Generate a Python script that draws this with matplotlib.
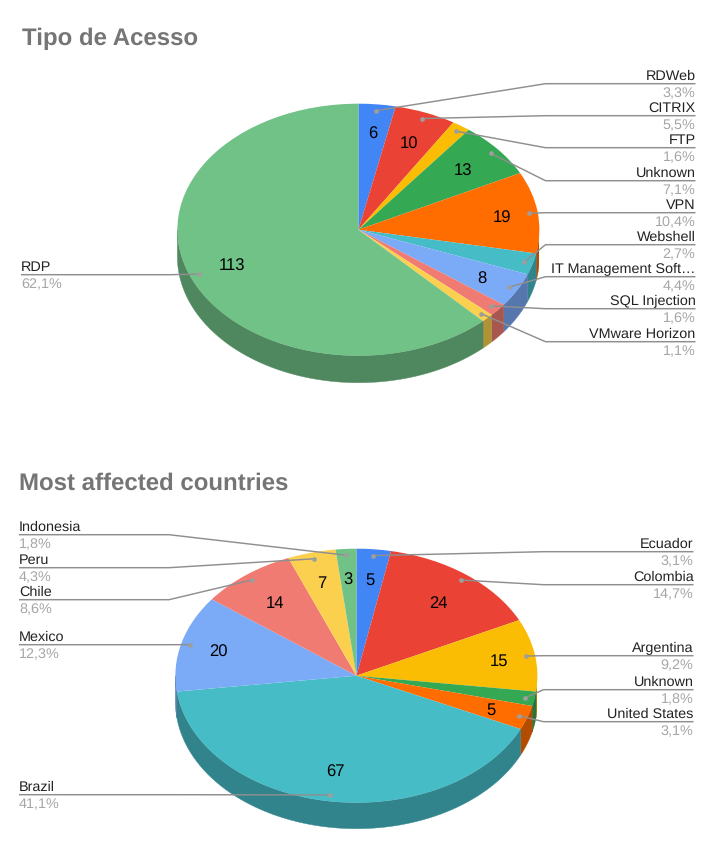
import numpy as np
import matplotlib
matplotlib.use("Agg")
import matplotlib.pyplot as plt
import matplotlib.colors as mc

plt.rcParams['font.family'] = ['Liberation Sans', 'DejaVu Sans']
plt.rcParams['text.hinting'] = 'no_hinting'

W, H = 712, 853
palette = ['#4285F4', '#EA4335', '#FBBC04', '#34A853', '#FF6D01',
           '#46BDC6', '#7BAAF7', '#F07B72', '#FCD04F', '#71C287']

access_names = ['RDWeb', 'CITRIX', 'FTP', 'Unknown', 'VPN', 'Webshell',
                'IT Management Soft…', 'SQL Injection', 'VMware Horizon', 'RDP']
access_values = [6, 10, 3, 13, 19, 5, 8, 3, 2, 113]
access_pct = ['3,3%', '5,5%', '1,6%', '7,1%', '10,4%', '2,7%', '4,4%', '1,6%', '1,1%', '62,1%']
access_shown = [True, True, False, True, True, False, True, False, False, True]
access_line_y = [84, 116, 148, 181, 213, 245, 277, 309, 342, 275]
access_label_r = [.78, .75, .75, .75, .80, .75, .78, .75, .75, .75]

country_names = ['Ecuador', 'Colombia', 'Argentina', 'Unknown', 'United States',
                 'Brazil', 'Mexico', 'Chile', 'Peru', 'Indonesia']
country_values = [5, 24, 15, 3, 5, 67, 20, 14, 7, 3]
country_pct = ['3,1%', '14,7%', '9,2%', '1,8%', '3,1%', '41,1%', '12,3%', '8,6%', '4,3%', '1,8%']
country_shown = [True, True, True, False, True, True, True, True, True, True]
country_line_y = [552, 585, 656, 690, 722, 795, 645, 600, 568, 535]
country_label_r = [.77, .74, .80, .75, .785, .755, .79, .735, .765, .77]

fig = plt.figure(figsize=(W / 100, H / 100), dpi=100, facecolor='white')
overlay = fig.add_axes([0, 0, 1, 1], zorder=5)
overlay.set_xlim(0, W)
overlay.set_ylim(H, 0)
overlay.axis('off')
overlay.patch.set_alpha(0)


def pie3d(values, names, pct, shown, line_y, label_r, cx, cy, rx, ry, depth, x_left, x_right):
    d = depth / ry
    ax = fig.add_axes([(cx - rx) / W, 1 - (cy + ry + depth) / H, 2 * rx / W, (2 * ry + depth) / H], zorder=1)
    ax.pie(values, colors=palette, startangle=90, counterclock=False, radius=1,
           wedgeprops=dict(linewidth=0))
    ax.set_aspect('auto')
    ax.set_xlim(-1, 1)
    ax.set_ylim(-1 - d, 1)
    ax.axis('off')
    vals = np.array(values, float)
    edges = np.concatenate([[0], np.cumsum(vals)]) / vals.sum() * 2 * np.pi
    for i, col in enumerate(palette):
        a0, a1 = max(edges[i], np.pi / 2), min(edges[i + 1], 3 * np.pi / 2)
        if a1 > a0:
            t = np.linspace(a0, a1, 80)
            xs, ys = np.sin(t), np.cos(t)
            dark = tuple(c * 0.7 for c in mc.to_rgb(col))
            ax.fill(np.r_[xs, xs[::-1]], np.r_[ys, ys[::-1] - d], color=dark, lw=0.3, zorder=0.5)
    mids = (edges[:-1] + edges[1:]) / 2
    for i, m in enumerate(mids):
        sx, cs = np.sin(m), np.cos(m)
        px, py = cx + rx * 0.95 * sx, cy - ry * 0.95 * cs
        if shown[i]:
            overlay.text(cx + rx * label_r[i] * sx, cy - ry * label_r[i] * cs + 1.2, str(values[i]), fontsize=12,
                         color='black', ha='center', va='center')
        right = sx > 0
        x_end = x_right if right else x_left
        x_elb = x_right - 150 if right else x_left + 150
        overlay.plot([px, x_elb, x_end], [py, line_y[i] + 0.7, line_y[i] + 0.7], color='#8f8f8f', lw=1.05,
                     solid_capstyle='butt')
        overlay.plot([px], [py], 'o', ms=3.4, color='#9e9e9e', mew=0)
        ha = 'right' if right else 'left'
        overlay.text(x_end, line_y[i] - 8, names[i], fontsize=10.4, color='#222222', ha=ha, va='center')
        overlay.text(x_end, line_y[i] + 9.2, pct[i], fontsize=10.4, color='#a6a6a6', ha=ha, va='center')


pie3d(access_values, access_names, access_pct, access_shown, access_line_y, access_label_r,
      358.4, 230.7, 181, 126, 27, 21, 695.5)
pie3d(country_values, country_names, country_pct, country_shown, country_line_y, country_label_r,
      356.4, 676.7, 181, 127, 26, 19, 693.5)

overlay.text(22, 38.5, 'Tipo de Acesso', fontsize=17.3, fontweight='bold', color='#757575',
             family=['Liberation Sans', 'DejaVu Sans'], ha='left', va='center')
overlay.text(19, 483.5, 'Most affected countries', fontsize=17.3, fontweight='bold', color='#757575',
             family=['Liberation Sans', 'DejaVu Sans'], ha='left', va='center')

fig.savefig('out.png', dpi=100)
